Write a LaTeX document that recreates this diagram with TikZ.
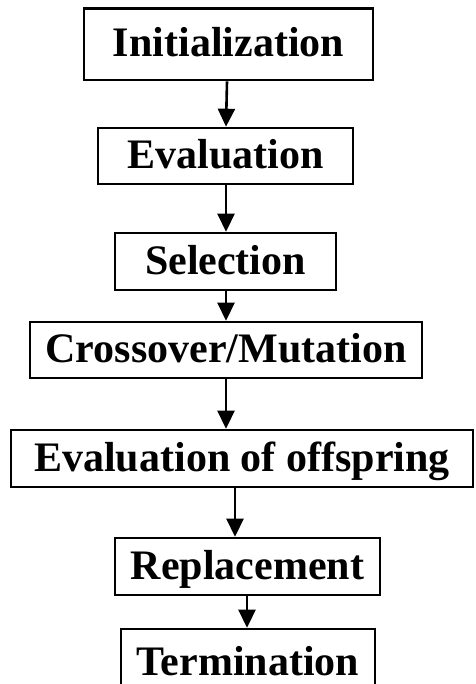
\documentclass[tikz,border=0pt]{standalone}
\usepackage{fontspec}
\setmainfont{Liberation Serif}
\usetikzlibrary{arrows.meta}
\begin{document}
\begin{tikzpicture}[x=1pt,y=-1pt,
  stepbox/.style={draw, line width=2.6pt, inner sep=0pt,
    font=\fontsize{42}{50}\selectfont\bfseries, text height=33pt, text depth=8pt},
  flow/.style={line width=2.6pt, -{Triangle[width=17pt,length=18pt]}}]
\useasboundingbox (0,0) rectangle (475,684);
\node[stepbox, minimum width=289pt, minimum height=71.5pt] (init) at (228.5,44.25) {Initialization};
\node[stepbox, minimum width=255pt, minimum height=56pt] (eval) at (225.5,156) {Evaluation};
\node[stepbox, minimum width=221pt, minimum height=57pt] (sel) at (225.5,261.5) {Selection};
\node[stepbox, minimum width=392pt, minimum height=56pt] (cross) at (226,350) {Crossover/Mutation};
\node[stepbox, minimum width=462pt, minimum height=57pt] (evoff) at (242,458.5) {Evaluation of offspring};
\node[stepbox, minimum width=265pt, minimum height=57pt] (repl) at (247.5,566.5) {Replacement};
\node[stepbox, minimum width=254pt, minimum height=67pt] (term) at (248,662.5) {Termination};
\draw[flow] (init.south -| 227,0) -- (eval.north -| 226,0);
\draw[flow] (eval.south -| 226,0) -- (sel.north -| 226,0);
\draw[flow] (sel.south -| 226,0) -- (cross.north -| 226,0);
\draw[flow] (cross.south -| 226,0) -- (evoff.north -| 226,0);
\draw[flow] (evoff.south -| 235,0) -- (repl.north -| 235,0);
\draw[flow] (repl.south -| 247,0) -- (term.north -| 247,0);
\end{tikzpicture}
\end{document}
